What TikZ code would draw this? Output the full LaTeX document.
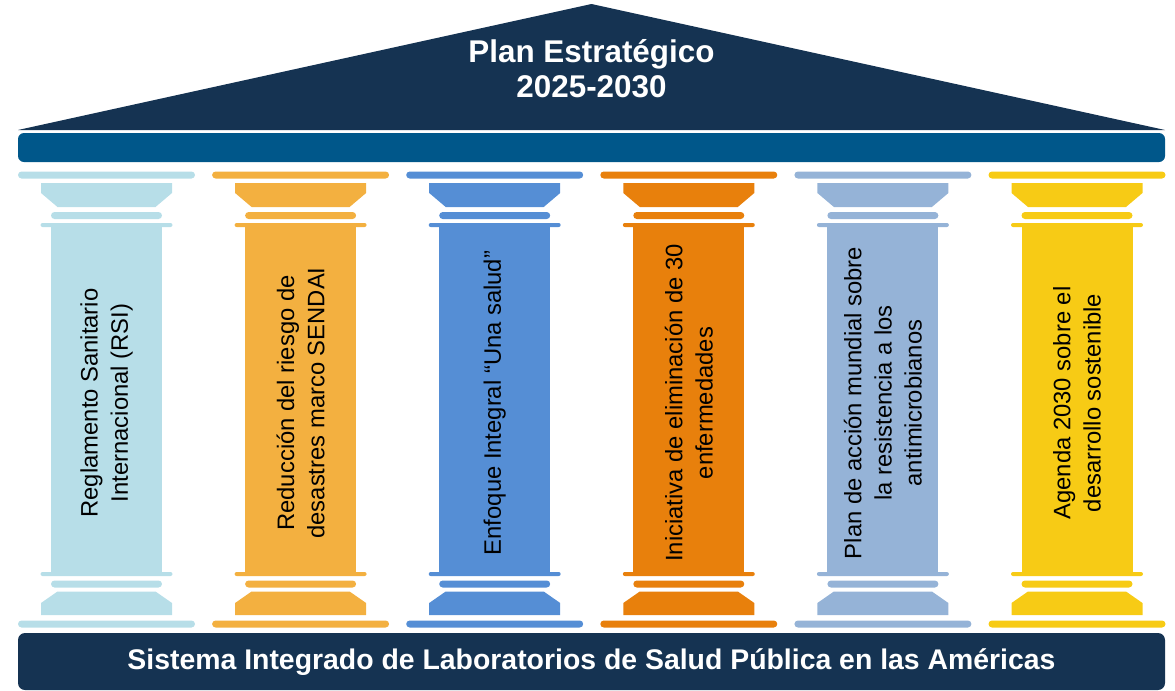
\documentclass[tikz,border=0pt]{standalone}
\usepackage{fontspec}
\setmainfont{Liberation Sans}
\definecolor{navy}{RGB}{21,51,82}
\definecolor{banda}{RGB}{0,87,138}
\definecolor{pilA}{RGB}{183,222,232}
\definecolor{pilB}{RGB}{243,176,64}
\definecolor{pilC}{RGB}{85,142,213}
\definecolor{pilD}{RGB}{232,128,12}
\definecolor{pilE}{RGB}{149,179,215}
\definecolor{pilF}{RGB}{247,203,21}
\begin{document}
\begin{tikzpicture}[x=0.5pt,y=-0.5pt,
	pilartext/.style={rotate=90,align=center,text=black,font=\fontsize{11.9}{15.1}\selectfont},
	titletext/.style={align=center,text=white,font=\fontsize{15.7}{17.25}\selectfont\bfseries},
	bar/.style={rounded corners=1.75pt}]
	\useasboundingbox (0,0) rectangle (1175,691);
	% roof and beam
	\fill[navy] (18,130) -- (591.5,4) -- (1165,130) -- cycle;
	\node[titletext] (titulo) at (591.5,68.5) {Plan Estratégico\\2025-2030};
	\fill[banda,rounded corners=3pt] (18,133) rectangle (1165,162);
	% pillars
	\foreach \i/\col/\txt in {
		0/pilA/{Reglamento Sanitario\\Internacional (RSI)},
		1/pilB/{Reducción del riesgo de\\desastres marco SENDAI},
		2/pilC/{Enfoque Integral “Una salud”},
		3/pilD/{Iniciativa de eliminación de 30\\enfermedades},
		4/pilE/{Plan de acción mundial sobre\\la resistencia a los\\antimicrobianos},
		5/pilF/{Agenda 2030 sobre el\\desarrollo sostenible}}{
		\pgfmathsetmacro\c{106.5+194.1*\i}
		\fill[\col,bar] (\c-88.5,171.5) rectangle (\c+88.5,178.5);
		\fill[\col] (\c-65.5,183) -- (\c+65.5,183) -- (\c+65.5,193) -- (\c+49,207) -- (\c-49,207) -- (\c-65.5,193) -- cycle;
		\fill[\col,bar] (\c-55.5,212) rectangle (\c+55.5,219);
		\fill[\col,rounded corners=1pt] (\c-66,223) rectangle (\c+66,227);
		\fill[\col] (\c-55.5,227) rectangle (\c+55.5,572);
		\fill[\col,rounded corners=1pt] (\c-66,572) rectangle (\c+66,576);
		\fill[\col,bar] (\c-55.5,580.5) rectangle (\c+55.5,587.5);
		\fill[\col] (\c-49,591.5) -- (\c+49,591.5) -- (\c+65.5,603) -- (\c+65.5,615) -- (\c-65.5,615) -- (\c-65.5,603) -- cycle;
		\fill[\col,bar] (\c-88.5,620.5) rectangle (\c+88.5,627.5);
		\node[pilartext] (p\i) at (\c,403) {\txt};
	}
	% base
	\fill[navy,rounded corners=3.5pt] (18,633) rectangle (1165,690);
	\node[text=white,font=\fontsize{14.2}{17}\selectfont\bfseries] (base) at (591.5,662.5) {Sistema Integrado de Laboratorios de Salud Pública en las Américas};
\end{tikzpicture}
\end{document}
